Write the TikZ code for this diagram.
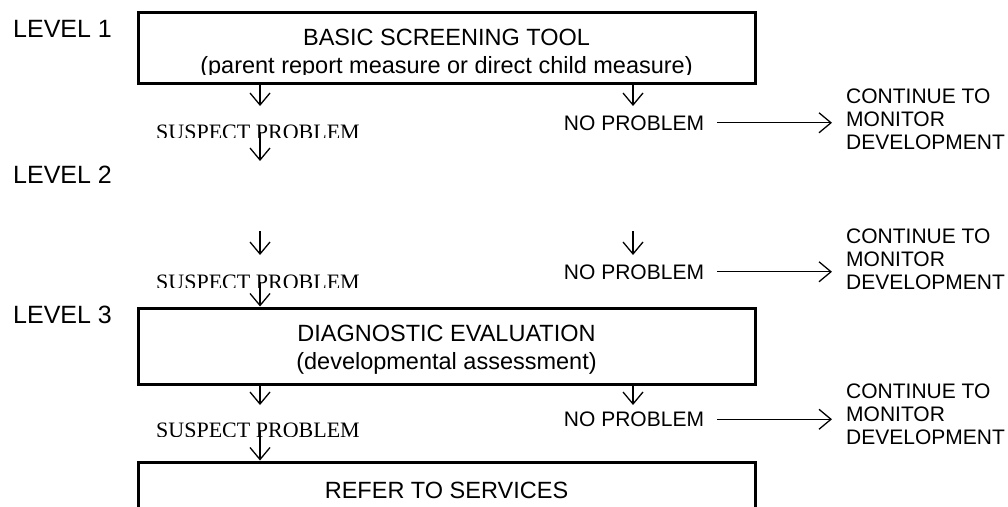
\documentclass[tikz,border=0pt]{standalone}
\usepackage{fontspec}
\setmainfont{Liberation Sans}
\newfontfamily\seriffam{Liberation Serif}
\usetikzlibrary{arrows.meta}
\begin{document}
\begin{tikzpicture}[x=1pt,y=-1pt,
  box/.style={draw, line width=3pt, rectangle, inner sep=0pt, minimum width=617pt},
  boxtext/.style={anchor=base, inner sep=0pt, font=\fontsize{23.5}{28}\selectfont},
  side/.style={inner sep=0pt, font=\fontsize{21}{23}\selectfont},
  cont/.style={side, anchor=north west, align=left},
  lvl/.style={anchor=base west, inner sep=0pt, font=\fontsize{25}{30}\selectfont},
  susp/.style={anchor=base, inner sep=0pt, font=\seriffam\fontsize{22}{26}\selectfont},
  arr/.style={-{Straight Barb[length=12pt,width=20pt]}, line width=1.3pt},
]
\useasboundingbox (0,0) rectangle (1008,506);

% boxes
\node[box, minimum height=71pt] (b1) at (446.5,47.5) {};
\node[box, minimum height=76pt] (b3) at (446.5,346) {};
\node[box, minimum height=68pt] (b4) at (446.5,496) {};

% box texts
\node[boxtext] (t1a) at (446.5,45.5) {BASIC SCREENING TOOL};
\begin{scope}
  \clip (138,12) rectangle (755,74.5);
  \node[boxtext] (t1b) at (446.5,73.5) {(parent report measure or direct child measure)};
\end{scope}
\node[boxtext] (t3a) at (446.5,341.5) {DIAGNOSTIC EVALUATION};
\node[boxtext] (t3b) at (446.5,369.5) {(developmental assessment)};
\node[boxtext] (t4) at (446.5,498) {REFER TO SERVICES};

% level labels
\node[lvl] (l1) at (13,37) {LEVEL 1};
\node[lvl] (l2) at (13,183) {LEVEL 2};
\node[lvl] (l3) at (13,323) {LEVEL 3};

% ---------- group 1
\coordinate (d1) at (260,106);
\coordinate (n1) at (633,106);
\draw[arr] (b1.south -| d1) -- (d1);
\draw[arr] (b1.south -| n1) -- (n1);
\begin{scope}
  \clip (100,118) rectangle (420,137);
  \node[susp] (s1) at (258,139.6) {SUSPECT PROBLEM};
\end{scope}
\coordinate (e1) at (260,161);
\draw[arr] (e1 |- s1.center) -- (e1);
\node[side, anchor=base] (p1) at (634,130) {NO PROBLEM};
\node[cont] (c1) at (846,88.5) {CONTINUE TO\\MONITOR\\DEVELOPMENT};
\draw[arr, shorten <=13pt, shorten >=14pt] (p1.east) -- (p1.east -| c1.west);

% ---------- group 2
\coordinate (d2a) at (260,231);
\coordinate (d2b) at (260,255);
\coordinate (n2a) at (633,231);
\coordinate (n2b) at (633,255);
\draw[arr] (d2a) -- (d2b);
\draw[arr] (n2a) -- (n2b);
\begin{scope}
  \clip (100,268) rectangle (420,287);
  \node[susp] (s2) at (258,289.6) {SUSPECT PROBLEM};
\end{scope}
\draw[arr] (d2a |- s2.center) -- (b3.north -| d2a);
\node[side, anchor=base] (p2) at (634,279) {NO PROBLEM};
\node[cont] (c2) at (846,228.5) {CONTINUE TO\\MONITOR\\DEVELOPMENT};
\draw[arr, shorten <=13pt, shorten >=14pt] (p2.east) -- (p2.east -| c2.west);

% ---------- group 3
\coordinate (d3) at (260,405);
\coordinate (n3) at (633,405);
\draw[arr] (b3.south -| d3) -- (d3);
\draw[arr] (b3.south -| n3) -- (n3);
\begin{scope}
  \clip (100,416) rectangle (420,436);
  \node[susp] (s3) at (258,437.6) {SUSPECT PROBLEM};
\end{scope}
\draw[arr] (d3 |- s3.center) -- (b4.north -| d3);
\node[side, anchor=base] (p3) at (634,426.5) {NO PROBLEM};
\node[cont] (c3) at (846,383.5) {CONTINUE TO\\MONITOR\\DEVELOPMENT};
\draw[arr, shorten <=13pt, shorten >=14pt] (p3.east) -- (p3.east -| c3.west);
\end{tikzpicture}
\end{document}
